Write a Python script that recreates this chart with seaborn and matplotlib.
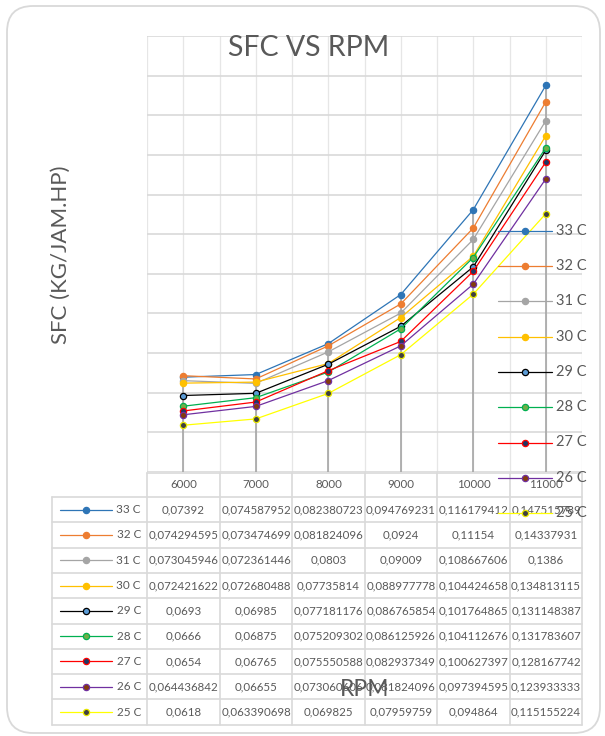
import numpy as np
import pandas as pd
import matplotlib
matplotlib.use('Agg')
import matplotlib.pyplot as plt
from matplotlib.lines import Line2D
from matplotlib.patches import FancyBboxPatch
from matplotlib.transforms import IdentityTransform
import seaborn as sns

rpm = ['6000', '7000', '8000', '9000', '10000', '11000']
temps = ['33 C', '32 C', '31 C', '30 C', '29 C', '28 C', '27 C', '26 C', '25 C']
sfc_33 = [0.07392, 0.074587952, 0.082380723, 0.094769231, 0.116179412, 0.147515789]
sfc_32 = [0.074294595, 0.073474699, 0.081824096, 0.0924, 0.11154, 0.14337931]
sfc_31 = [0.073045946, 0.072361446, 0.0803, 0.09009, 0.108667606, 0.1386]
sfc_30 = [0.072421622, 0.072680488, 0.07735814, 0.088977778, 0.104424658, 0.134813115]
sfc_29 = [0.0693, 0.06985, 0.077181176, 0.086765854, 0.101764865, 0.131148387]
sfc_28 = [0.0666, 0.06875, 0.075209302, 0.086125926, 0.104112676, 0.131783607]
sfc_27 = [0.0654, 0.06765, 0.075550588, 0.082937349, 0.100627397, 0.128167742]
sfc_26 = [0.064436842, 0.06655, 0.073060606, 0.081824096, 0.097394595, 0.123933333]
sfc_25 = [0.0618, 0.063390698, 0.069825, 0.07959759, 0.094864, 0.115155224]
series = [sfc_33, sfc_32, sfc_31, sfc_30, sfc_29, sfc_28, sfc_27, sfc_26, sfc_25]

# line colour, marker face, marker edge
styles = [('#2E75B6', '#2E75B6', '#2E75B6'),
          ('#ED7D31', '#ED7D31', '#ED7D31'),
          ('#A5A5A5', '#A5A5A5', '#A5A5A5'),
          ('#FFC000', '#FFC000', '#FFC000'),
          ('#000000', '#5B9BD5', '#000000'),
          ('#00B050', '#70AD47', '#00B050'),
          ('#FF0000', '#203864', '#FF0000'),
          ('#7030A0', '#843C0C', '#7030A0'),
          ('#FFFF00', '#404040', '#E6E600')]

W, H = 605, 736
TXT = '#595959'
GRID = '#D9D9D9'

sns.set_theme(style='white')
plt.rcParams['font.family'] = ['Lato', 'DejaVu Sans']

def fx(x):
    return x / W

def fy(y):
    return 1 - y / H

fig = plt.figure(figsize=(W / 100, H / 100), dpi=100)

# outer rounded border
fig.patches.append(FancyBboxPatch((7, 3), 593, 727, boxstyle='round,pad=0,rounding_size=26',
                                  transform=IdentityTransform(), facecolor='none',
                                  edgecolor=GRID, linewidth=1.3))

# plot area
left, right, top, bottom = 147, 582, 36, 472
ax = fig.add_axes([fx(left), fy(bottom), (right - left) / W, (bottom - top) / H])
x_pos = np.arange(len(rpm))

ax.vlines(x_pos, 0.05, np.max(series, axis=0), color='#A5A5A5', linewidth=1.2, zorder=1.5)
for i, vals in enumerate(series):
    lc, fc, ec = styles[i]
    sns.lineplot(x=x_pos, y=vals, ax=ax, color=lc, linewidth=0.9, marker='o', markersize=4.5,
                 markerfacecolor=fc, markeredgecolor=ec, markeredgewidth=0.9, zorder=2 + i * 0.01)

ax.set_xlim(-0.5, 5.5)
ax.set_ylim(0.05, 0.16)
ax.set_yticks(np.arange(0.05, 0.1601, 0.01))
ax.set_xticks(np.arange(-0.5, 5.51, 0.5))
ax.grid(axis='y', color=GRID, linewidth=1.2)
ax.grid(axis='x', color='#E6E6E6', linewidth=0.9)
ax.tick_params(length=0, labelleft=False, labelbottom=False)
ax.set_xlabel('')
ax.set_ylabel('')
for s in ax.spines.values():
    s.set_visible(False)

# titles
fig.text(fx(309), fy(48), 'SFC VS RPM', fontsize=20.5, color=TXT, ha='center', va='center')
fig.text(fx(61), fy(255), 'SFC (KG/JAM.HP)', fontsize=16, color=TXT, rotation=90,
         ha='center', va='center')

def key(xc, yc, i, half=26, z=4):
    lc, fc, ec = styles[i]
    fig.add_artist(Line2D([fx(xc - half), fx(xc + half)], [fy(yc), fy(yc)], color=lc,
                          linewidth=0.9, zorder=z))
    fig.add_artist(Line2D([fx(xc)], [fy(yc)], marker='o', markersize=4.5, color=lc,
                          markerfacecolor=fc, markeredgecolor=ec, markeredgewidth=0.9,
                          linestyle='none', zorder=z))

# data table
cols = [147, 220, 292, 365, 437, 510, 582]
row_h = 25.3
row0 = 497
tl = dict(color=GRID, linewidth=1.2, zorder=3)
fig.add_artist(Line2D([fx(147), fx(582)], [fy(472.5), fy(472.5)], **tl))
for k in range(len(temps) + 1):
    y = row0 + k * row_h
    fig.add_artist(Line2D([fx(52), fx(582)], [fy(y), fy(y)], **tl))
y_end = row0 + len(temps) * row_h
fig.add_artist(Line2D([fx(52), fx(52)], [fy(row0), fy(y_end)], **tl))
for c in cols:
    fig.add_artist(Line2D([fx(c), fx(c)], [fy(472.5), fy(y_end)], **tl))

for j, r in enumerate(rpm):
    xc = (cols[j] + cols[j + 1]) / 2
    fig.text(fx(xc), fy(485), r, fontsize=8.3, color=TXT, ha='center', va='center')
for k, t in enumerate(temps):
    yc = row0 + (k + 0.5) * row_h
    key(86, yc, k)
    fig.text(fx(141), fy(yc), t, fontsize=8.5, color=TXT, ha='right', va='center')
    for j, v in enumerate(series[k]):
        xc = (cols[j] + cols[j + 1]) / 2
        fig.text(fx(xc), fy(yc), str(v).replace('.', ','), fontsize=8.3, color=TXT,
                 ha='center', va='center')

fig.text(fx(365), fy(690), 'RPM', fontsize=16.5, color=TXT, ha='center', va='center', zorder=6)

# legend on the right
for k, t in enumerate(temps):
    yc = 230.7 + k * 35.3
    key(525, yc, k, half=27, z=7)
    fig.text(fx(556), fy(yc), t, fontsize=10.5, color=TXT, ha='left', va='center', zorder=7)

fig.savefig('out.png', dpi=100)
